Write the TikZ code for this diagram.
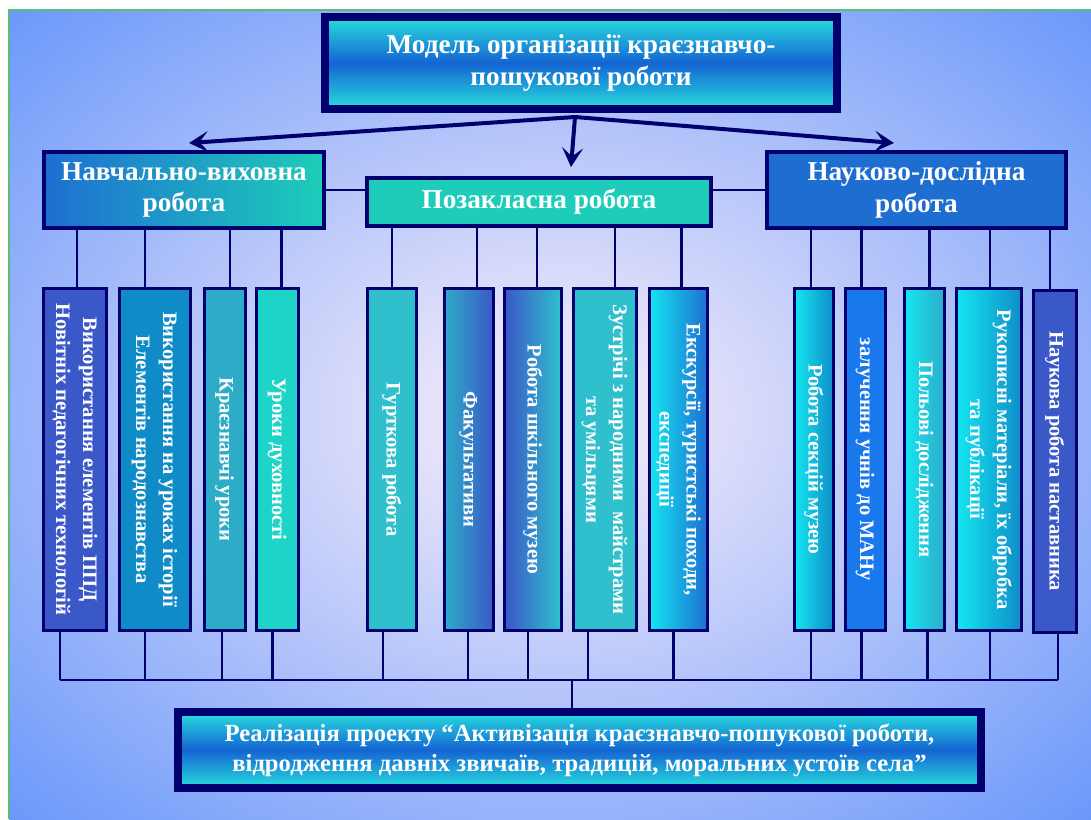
\documentclass[tikz,border=0pt]{standalone}
\usepackage{fontspec}
\setmainfont{Liberation Serif}
\usetikzlibrary{arrows.meta,calc}

\definecolor{navy}{RGB}{0,0,110}
\definecolor{bgin}{RGB}{232,228,250}
\definecolor{bgout}{RGB}{96,146,250}
\definecolor{edge}{RGB}{90,190,120}
\definecolor{aqua}{RGB}{40,222,222}
\definecolor{deep}{RGB}{20,100,210}
\definecolor{sea}{RGB}{30,205,185}
\definecolor{ocean}{RGB}{30,110,210}
\definecolor{royal}{RGB}{58,88,200}
\definecolor{steel}{RGB}{15,140,200}
\definecolor{teal}{RGB}{45,172,200}
\definecolor{turq}{RGB}{30,212,200}
\definecolor{lagoon}{RGB}{48,192,205}
\definecolor{sky}{RGB}{20,230,240}
\definecolor{azure}{RGB}{25,120,235}

\newlength\px
\setlength\px{0.02cm}

\newcommand\bigfont{\fontsize{15.5}{18}\selectfont\bfseries}
\newcommand\leaffont{\fontsize{11.7}{15.3}\selectfont\bfseries}
\newcommand\resfont{\fontsize{14}{17}\selectfont\bfseries}
\newcommand\vlabel[1]{\rotatebox{-90}{\begin{tabular}{@{}c@{}}#1\end{tabular}}}

\pgfdeclareradialshading{bgglow}{\pgfpoint{0bp}{0bp}}{color(0bp)=(bgin); color(5bp)=(bgin); color(38bp)=(bgout); color(80bp)=(bgout)}

\tikzset{
    frame/.style={draw=navy, line width=8\px, inner sep=0pt, text=white, font=\bigfont, align=center,
                  top color=aqua, bottom color=aqua, middle color=deep},
    branch/.style={draw=navy, line width=4\px, inner sep=0pt, text=white, font=\bigfont, align=center},
    leaf/.style={draw=navy, line width=3\px, inner sep=0pt, text=white, font=\leaffont, minimum height=342\px},
    link/.style={navy, line width=2.5\px},
    fork/.style={navy, line width=4\px, -{Stealth[length=11pt, width=12pt, inset=5pt]}},
}

\begin{document}
\begin{tikzpicture}[x=0.02cm, y=-0.02cm]
        \def \leafy {459.5};

        \useasboundingbox (0,0) rectangle (1091,819);
        % page background with the glow in the middle
        \fill[white] (0,0) rectangle (1091,819);
        \shade[shading=bgglow] (9,10) rectangle (1091,819);
        \draw[edge, line width=2\px] (9,819) -- (9,10) -- (1091,10);

        % title and the three branches
        \node[frame, minimum width=512\px, minimum height=92\px] (top) at (581,63)
            {Модель організації краєзнавчо-\\пошукової роботи};
        \node[branch, minimum width=280\px, minimum height=76\px, left color=ocean, right color=sea] (nv) at (184,190)
            {Навчально-виховна\\робота};
        \node[branch, minimum width=344\px, minimum height=48\px, left color=sea, middle color=ocean, right color=sea] (pz) at (539,202)
            {Позакласна робота};
        \node[branch, minimum width=299\px, minimum height=76\px, left color=ocean, middle color=sea, right color=ocean] (nd) at (916.5,190)
            {Науково-дослідна\\робота};

        % the leaves
        \node[leaf, minimum width=63\px, fill=royal] (l1) at (75,\leafy)
            {\vlabel{Використання елементів ППД\\Новітніх педагогічних технологій}};
        \node[leaf, minimum width=71\px, fill=steel] (l2) at (155,\leafy)
            {\vlabel{Використання на уроках історії\\Елементів народознавства}};
        \node[leaf, minimum width=41\px, fill=teal] (l3) at (225,\leafy)
            {\vlabel{Краєзнавчі уроки}};
        \node[leaf, minimum width=42\px, fill=turq] (l4) at (277.5,\leafy)
            {\vlabel{Уроки духовності}};
        \node[leaf, minimum width=49\px, fill=lagoon] (l5) at (392,\leafy)
            {\vlabel{Гурткова робота}};
        \node[leaf, minimum width=49\px, left color=teal, right color=royal] (l6) at (469,\leafy)
            {\vlabel{Факультативи}};
        \node[leaf, minimum width=57\px, left color=royal, right color=lagoon] (l7) at (533,\leafy)
            {\vlabel{Робота шкільного музею}};
        \node[leaf, minimum width=63\px, fill=lagoon] (l8) at (605,\leafy)
            {\vlabel{Зустрічі з народними\ \ майстрами\\та умільцями}};
        \node[leaf, minimum width=58\px, left color=sky, right color=ocean] (l9) at (678.5,\leafy)
            {\vlabel{Екскурсії, туристські походи,\\експедиції}};
        \node[leaf, minimum width=39\px, left color=sky, right color=steel] (l10) at (814,\leafy)
            {\vlabel{Робота секцій музею}};
        \node[leaf, minimum width=40\px, fill=azure] (l11) at (865.5,\leafy)
            {\vlabel{залучення учнів до МАНу}};
        \node[leaf, minimum width=40\px, left color=sky, right color=teal] (l12) at (924.5,\leafy)
            {\vlabel{Польові дослідження}};
        \node[leaf, minimum width=65\px, left color=sky, right color=steel] (l13) at (989,\leafy)
            {\vlabel{Рукописні матеріали, їх обробка\\та публікації}};
        \node[leaf, minimum width=43\px, fill=royal] (l14) at (1055,\leafy+2)
            {\vlabel{Наукова робота наставника}};

        % result of the whole model
        \node[frame, font=\resfont, minimum width=803\px, minimum height=76\px] (res) at (579.5,750)
            {Реалізація проекту “Активізація краєзнавчо-пошукової роботи,\\відродження давніх звичаїв, традицій, моральних устоїв села”};

        % arrows from the title
        \coordinate (split) at ($(top.south)+(-6,4)$);
        \draw[fork] (split) -- ($(nv.north)+(5,-7)$);
        \draw[fork] (split) -- ($(pz.north)+(32,-9)$);
        \draw[fork] (split) -- ($(nd.north)+(-22.5,-7)$);

        % links between the branches
        \draw[link] (nv.east) -- (nv.east -| pz.west);
        \draw[link] (nd.west) -- (nd.west -| pz.east);

        % iterate on branch/leaf/shift: line from a branch down to its leaf
        \foreach \b/\n/\d in {nv/l1/2, nv/l2/-10, nv/l3/5, nv/l4/4,
                              pz/l5/0, pz/l6/8, pz/l7/4, pz/l8/10, pz/l9/3,
                              nd/l10/-3, nd/l11/-4, nd/l12/5, nd/l13/1, nd/l14/-5} {
            \draw[link] ($(\n.north)+(\d,0)$) -- ($(\n.north |- \b.south)+(\d,0)$);
        }

        % iterate on leaf/shift: line from a leaf down to the bus
        \coordinate (bus) at (572,680);
        \foreach \n/\d in {l1/-15, l2/-10, l3/-3, l4/-5, l5/-9, l6/-1, l7/-5, l8/-17, l9/-5,
                           l10/-3, l11/-4, l12/3, l13/1, l14/3} {
            \draw[link] ($(\n.south)+(\d,0)$) -- ($(\n.south |- bus)+(\d,0)$);
        }
        \draw[link] ($(l1.south |- bus)+(-15,0)$) -- ($(l14.south |- bus)+(3,0)$);
        \draw[link] (bus) -- (bus |- res.north);
    \end{tikzpicture}
\end{document}
